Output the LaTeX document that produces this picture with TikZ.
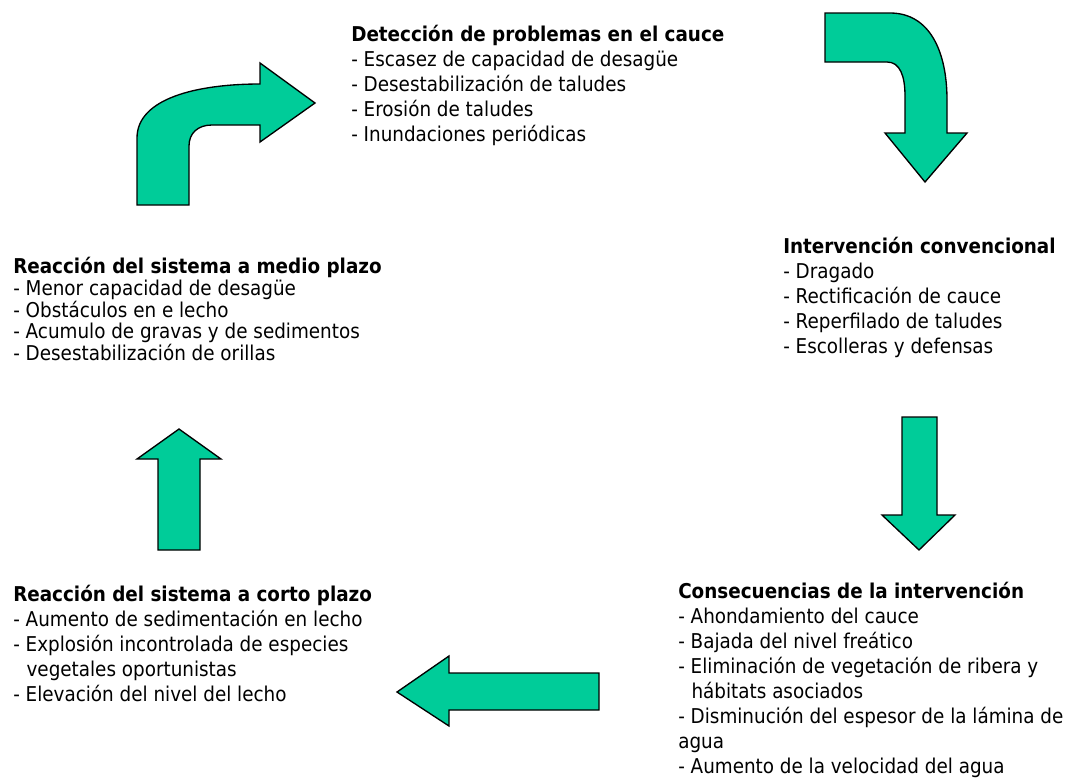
\documentclass[tikz,border=0pt]{standalone}
\usepackage{fontspec}
\setmainfont{DejaVu Sans Condensed}
\definecolor{Flecha}{HTML}{00CC99}

\begin{document}
\begin{tikzpicture}[x=0.75pt, y=-0.75pt,
  flecha/.style={fill=Flecha, draw=black, line width=1, line join=miter},
  bloque/.style={anchor=north west, inner sep=0, align=left, font=\fontsize{15.3}{18.75}\selectfont}]

 \useasboundingbox (0,0) rectangle (1069,778);

  %%%%%%%%%% Textos de cada etapa %%%%%%%%%%

 \node [bloque] (deteccion) at (351,25) {\textbf{Detección de problemas en el cauce}\\
   - Escasez de capacidad de desagüe\\
   - Desestabilización de taludes\\
   - Erosión de taludes\\
   - Inundaciones periódicas};

 \node [bloque] (intervencion) at (783,237) {\textbf{Intervención convencional}\\
   - Dragado\\
   - Rectificación de cauce\\
   - Reperfilado de taludes\\
   - Escolleras y defensas};

 \node [bloque] (consecuencias) at (678,582) {\textbf{Consecuencias de la intervención}\\
   - Ahondamiento del cauce\\
   - Bajada del nivel freático\\
   - Eliminación de vegetación de ribera y\\
   \hspace*{10pt}hábitats asociados\\
   - Disminución del espesor de la lámina de\\
   agua\\
   - Aumento de la velocidad del agua};

 \node [bloque] (corto) at (13,585) {\textbf{Reacción del sistema a corto plazo}\\
   - Aumento de sedimentación en lecho\\
   - Explosión incontrolada de especies\\
   \hspace*{10pt}vegetales oportunistas\\
   - Elevación del nivel del lecho};

 \node [bloque, font=\fontsize{15.3}{16.3}\selectfont] (medio) at (13,257) {\textbf{Reacción del sistema a medio plazo}\\
   - Menor capacidad de desagüe\\
   - Obstáculos en e lecho\\
   - Acumulo de gravas y de sedimentos\\
   - Desestabilización de orillas};

  %%%%%%%%%% Flecha curva hacia la derecha %%%%%%%%%%
 \draw [flecha] (137,205) -- (137,138) .. controls (137,98) and (198,84) .. (260,84)
   -- (260,63) -- (315,103) -- (260,142) -- (260,125) -- (212,125)
   .. controls (198,125) and (189,133) .. (189,146) -- (189,205) -- cycle ;

  %%%%%%%%%% Flecha curva hacia abajo %%%%%%%%%%
 \draw [flecha] (825,13) -- (890,13) .. controls (930,13) and (947,52) .. (947,100)
   -- (947,133) -- (967,133) -- (925,182) -- (885,133) -- (905,133) -- (905,96)
   .. controls (905,76) and (900,62) .. (887,62) -- (825,62) -- cycle ;

  %%%%%%%%%% Flechas rectas %%%%%%%%%%
 \draw [flecha] (902,417) -- (937,417) -- (937,515) -- (955,515) -- (919,550)
   -- (882,515) -- (902,515) -- cycle ;
 \draw [flecha] (599,673) -- (599,710) -- (449,710) -- (449,726) -- (397,692)
   -- (449,656) -- (449,673) -- cycle ;
 \draw [flecha] (158,550) -- (158,459) -- (137,459) -- (179,429) -- (221,459)
   -- (200,459) -- (200,550) -- cycle ;

\end{tikzpicture}
\end{document}
